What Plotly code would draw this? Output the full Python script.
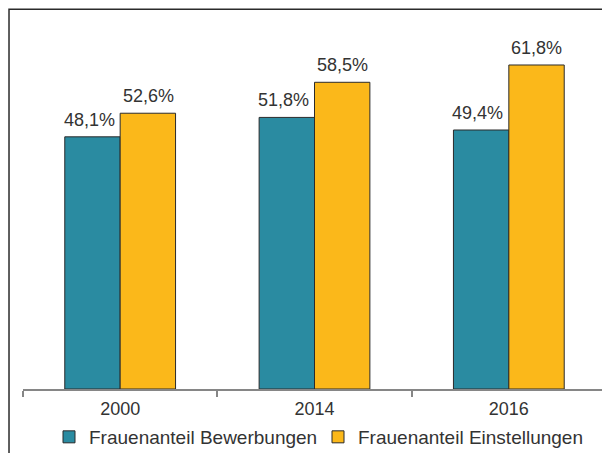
import plotly.graph_objects as go

# Daten
jahre = ["2000", "2014", "2016"]
bewerbungen = [48.1, 51.8, 49.4]
einstellungen = [52.6, 58.5, 61.8]

TEAL = "#2A8BA1"
GELB = "#FBB81A"
RAHMEN = "#2b2b2b"
SCHRIFT = "Liberation Sans, Arial, sans-serif"


def label(werte):
    return [f"{w:.1f}%".replace(".", ",") for w in werte]


fig = go.Figure()
fig.add_trace(go.Bar(
    x=jahre, y=bewerbungen, name="Frauenanteil Bewerbungen",
    marker=dict(color=TEAL, line=dict(color=RAHMEN, width=1)),
))
fig.add_trace(go.Bar(
    x=jahre, y=einstellungen, name="Frauenanteil Einstellungen",
    marker=dict(color=GELB, line=dict(color=RAHMEN, width=1)),
))

# Datenbeschriftungen über den Balken (x als Kategorie-Index,
# sonst wird "2000" als Zahl gelesen)
annotationen = []
for werte, versatz in ((bewerbungen, -31), (einstellungen, 28)):
    for i, (wert, text) in enumerate(zip(werte, label(werte))):
        annotationen.append(dict(
            x=i, y=wert, text=text, showarrow=False,
            xanchor="center", yanchor="bottom", xshift=versatz, yshift=5,
            font=dict(size=18, color="#333333"),
        ))

fig.update_layout(
    width=610, height=453,
    margin=dict(l=15, r=12, t=14, b=72),
    paper_bgcolor="white", plot_bgcolor="white",
    font=dict(family=SCHRIFT, size=18, color="#333333"),
    barmode="group", bargap=0.43, bargroupgap=0,
    showlegend=True,
    legend=dict(
        orientation="h", x=0.0446, xanchor="left",
        yref="container", y=0.053, yanchor="middle",
        font=dict(size=19, color="#333333"), itemwidth=30,
        entrywidth=224, entrywidthmode="pixels",
        tracegroupgap=0, traceorder="normal",
    ),
    xaxis=dict(
        type="category", range=[-0.5, len(jahre) - 0.5],
        showline=True, linecolor="#868686", linewidth=2,
        ticks="outside", tickson="boundaries", ticklen=6, tickwidth=2,
        tickcolor="#868686", showgrid=False, tickfont=dict(size=18),
        ticklabelstandoff=2, automargin=False,
    ),
    yaxis=dict(range=[0, 70], visible=False, showgrid=False),
    annotations=annotationen,
    shapes=[dict(
        type="rect", xref="paper", yref="paper",
        x0=-0.024, x1=1.2, y0=-0.4, y1=1.035,
        line=dict(color=RAHMEN, width=1.5), layer="above",
    )],
)

fig.write_html("out.html")
